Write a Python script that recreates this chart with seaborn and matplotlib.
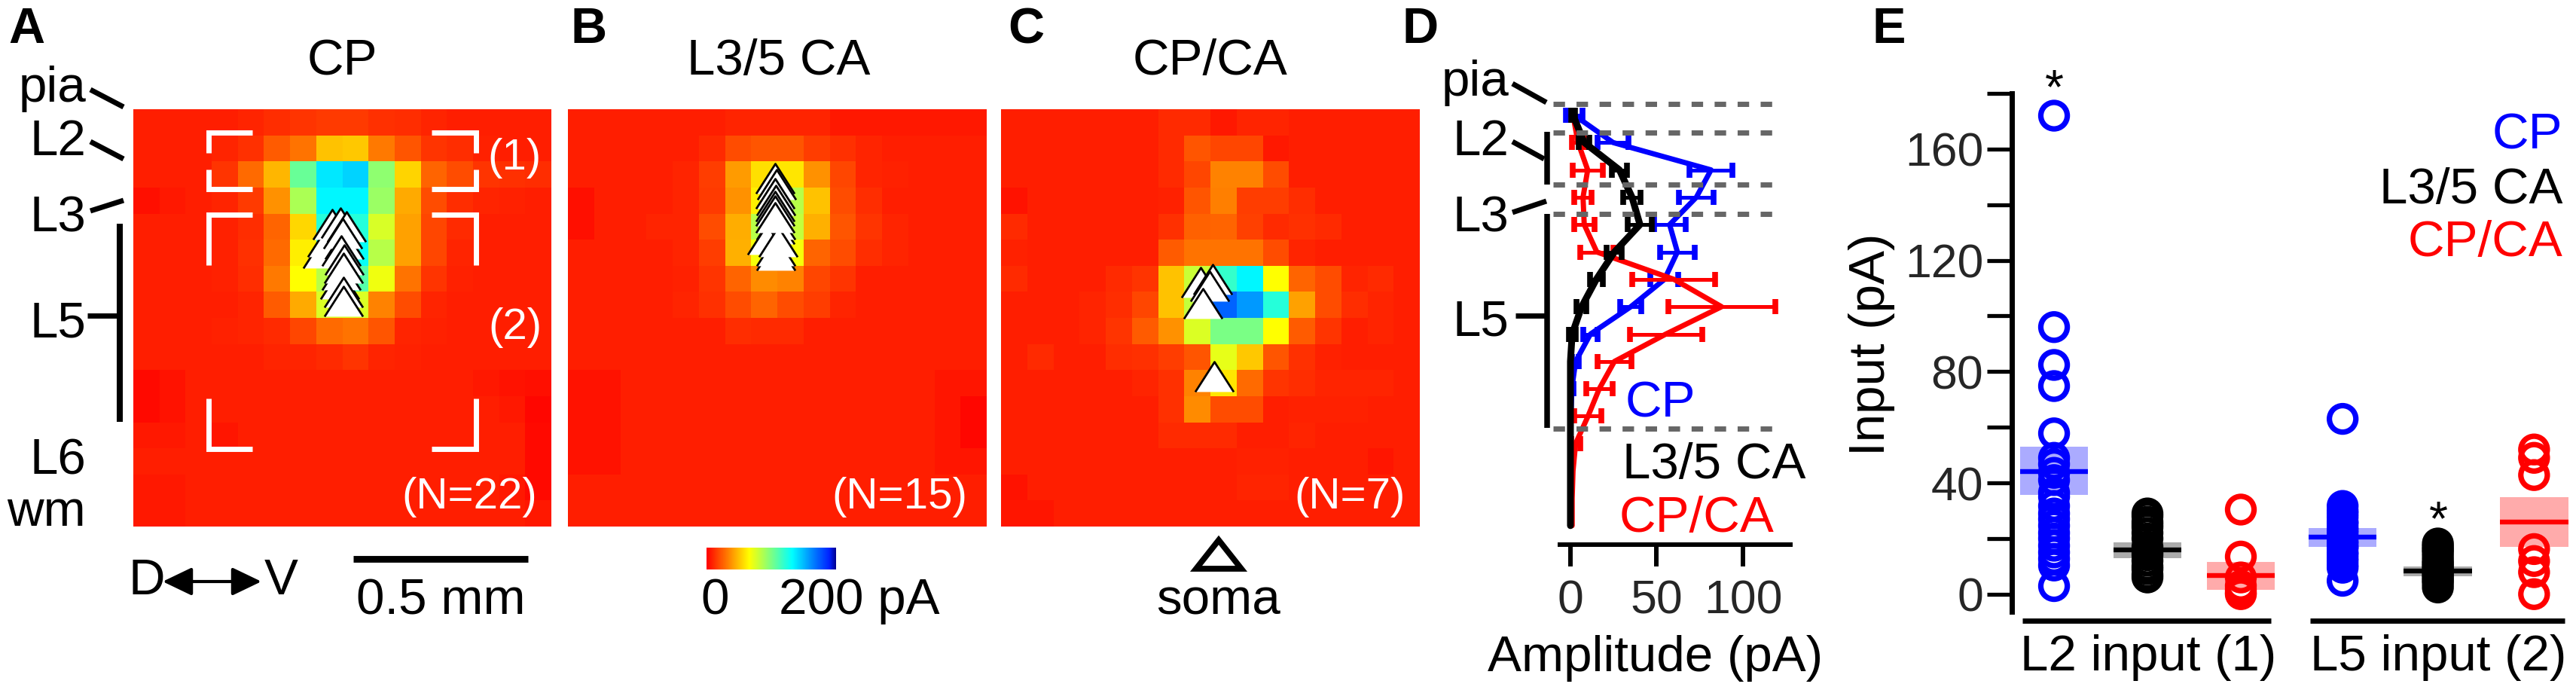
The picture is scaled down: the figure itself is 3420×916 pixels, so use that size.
import numpy as np
import pandas as pd
import matplotlib
matplotlib.use("Agg")
import matplotlib.pyplot as plt
import seaborn as sns
from matplotlib.colors import LinearSegmentedColormap
from matplotlib.patches import Polygon

# ---------- maps, 16 x 16 cells, pA ----------
map_cp = [
    [8, 8, 8, 8, 10, 12, 14, 15, 15, 13, 12, 10, 8, 8, 8, 8],
    [8, 8, 8, 10, 13, 24, 30, 50, 52, 32, 22, 14, 12, 9, 8, 8],
    [8, 8, 8, 14, 28, 47, 105, 138, 143, 95, 55, 26, 20, 14, 13, 12],
    [4, 7, 8, 10, 15, 38, 88, 134, 134, 92, 44, 20, 12, 10, 9, 8],
    [8, 8, 8, 9, 12, 26, 56, 122, 122, 76, 42, 18, 11, 8, 8, 8],
    [8, 8, 8, 9, 13, 28, 62, 126, 130, 85, 42, 18, 10, 8, 8, 8],
    [8, 8, 8, 9, 12, 32, 66, 85, 110, 70, 30, 14, 9, 8, 8, 8],
    [8, 8, 8, 8, 10, 24, 44, 75, 75, 34, 20, 10, 8, 8, 8, 8],
    [8, 8, 8, 9, 10, 11, 18, 28, 30, 22, 10, 9, 8, 8, 8, 8],
    [8, 8, 8, 8, 8, 10, 10, 11, 14, 10, 9, 8, 8, 8, 8, 8],
    [3, 5, 8, 8, 8, 8, 8, 8, 8, 8, 8, 8, 8, 7, 5, 4],
    [3, 5, 8, 8, 8, 8, 8, 8, 8, 8, 8, 8, 8, 8, 7, 2],
    [7, 7, 8, 6, 8, 8, 8, 8, 8, 8, 8, 8, 8, 8, 8, 3],
    [8, 8, 8, 8, 8, 8, 8, 8, 8, 8, 8, 8, 8, 8, 8, 3],
    [7, 7, 8, 8, 8, 8, 8, 8, 8, 8, 8, 8, 8, 8, 7, 3],
    [7, 7, 8, 8, 8, 8, 8, 8, 8, 8, 8, 8, 8, 8, 8, 7],
]
map_ca = [
    [8, 8, 8, 8, 8, 8, 10, 10, 10, 10, 7, 7, 7, 7, 7, 7],
    [8, 8, 8, 8, 8, 11, 20, 22, 22, 16, 13, 10, 8, 8, 8, 8],
    [8, 8, 8, 8, 10, 16, 40, 58, 60, 38, 18, 10, 9, 8, 8, 8],
    [4, 8, 8, 8, 10, 15, 38, 62, 85, 50, 20, 12, 8, 8, 8, 8],
    [4, 8, 8, 10, 10, 20, 45, 85, 82, 46, 22, 14, 10, 8, 8, 8],
    [8, 8, 8, 8, 10, 16, 46, 68, 68, 26, 20, 12, 10, 8, 8, 8],
    [8, 8, 8, 8, 9, 14, 26, 36, 34, 18, 14, 8, 8, 8, 8, 8],
    [8, 8, 8, 8, 10, 13, 20, 26, 20, 16, 10, 8, 8, 8, 8, 8],
    [8, 8, 8, 8, 8, 8, 12, 11, 11, 8, 8, 8, 8, 8, 8, 8],
    [8, 8, 8, 8, 8, 8, 8, 8, 8, 8, 8, 8, 8, 8, 8, 8],
    [5, 5, 8, 8, 8, 8, 8, 8, 8, 8, 8, 8, 8, 8, 6, 6],
    [5, 5, 8, 8, 8, 8, 8, 8, 8, 8, 8, 8, 8, 8, 6, 2],
    [5, 5, 8, 8, 8, 8, 8, 8, 8, 8, 8, 8, 8, 8, 6, 2],
    [5, 5, 8, 8, 8, 8, 8, 8, 8, 8, 8, 8, 8, 8, 6, 6],
    [8, 8, 8, 8, 8, 8, 8, 8, 8, 8, 8, 8, 8, 8, 8, 8],
    [8, 8, 8, 8, 8, 8, 8, 8, 8, 8, 8, 8, 8, 8, 8, 8],
]
map_cpca = [
    [8, 8, 8, 8, 8, 8, 11, 11, 7, 10, 10, 8, 8, 8, 8, 8],
    [8, 8, 8, 8, 8, 8, 11, 22, 18, 18, 7, 8, 8, 8, 8, 8],
    [8, 8, 8, 8, 8, 8, 11, 18, 34, 34, 20, 8, 8, 8, 8, 8],
    [5, 8, 8, 8, 8, 8, 9, 22, 33, 16, 16, 12, 8, 8, 8, 8],
    [11, 8, 8, 8, 8, 8, 13, 25, 26, 17, 11, 13, 11, 8, 8, 8],
    [9, 8, 8, 8, 8, 8, 24, 30, 30, 30, 20, 10, 8, 8, 8, 8],
    [11, 8, 8, 8, 11, 14, 50, 80, 118, 134, 66, 26, 20, 10, 11, 8],
    [8, 8, 8, 10, 12, 18, 50, 82, 172, 158, 122, 42, 20, 12, 10, 8],
    [8, 8, 8, 10, 14, 24, 38, 75, 100, 100, 66, 24, 14, 8, 10, 8],
    [8, 11, 8, 8, 12, 13, 16, 22, 72, 52, 22, 13, 9, 8, 8, 8],
    [8, 8, 8, 8, 8, 10, 13, 34, 60, 28, 14, 12, 10, 10, 10, 8],
    [8, 8, 8, 8, 8, 8, 13, 36, 20, 20, 8, 9, 9, 9, 8, 8],
    [8, 8, 8, 8, 8, 8, 11, 11, 11, 8, 8, 10, 8, 8, 8, 8],
    [8, 8, 8, 8, 8, 8, 8, 8, 8, 9, 9, 8, 8, 8, 6, 8],
    [5, 8, 8, 8, 8, 8, 8, 8, 8, 10, 10, 8, 8, 8, 8, 8],
    [6, 6, 8, 8, 8, 8, 8, 8, 8, 8, 8, 8, 8, 8, 8, 8],
]

# soma positions, in map cells, in the order they overlap
soma_cp_col = [7.23, 7.41, 8.07, 7.62, 7.93, 8.15, 8.01, 7.90, 7.97, 7.97, 8.07, 8.04, 8.04, 8.04]
soma_cp_row = [5.51, 5.09, 5.18, 4.42, 4.37, 4.50, 4.76, 6.69, 6.36, 5.43, 5.77, 6.10, 7.03, 7.37]
soma_ca_col = [7.95, 7.95, 7.90, 7.93, 7.60, 8.03, 7.90, 7.98, 7.90, 7.93, 7.90, 7.90, 7.90]
soma_ca_row = [5.60, 5.43, 4.59, 4.42, 5.01, 5.09, 2.65, 2.90, 3.24, 3.49, 3.74, 3.91, 4.17]
soma_cpca_col = [7.63, 8.10, 7.97, 7.72, 8.15]
soma_cpca_row = [6.64, 6.53, 6.78, 7.45, 10.24]

# ---------- panel D, amplitude per row ----------
rows = list(range(16))
amp_cp = [2.2, 24.7, 81.5, 73, 57.5, 62, 54.5, 35, 11.6, 3, 0.8, 0.3, 0.2, 0.1, 0.1, 0.1]
err_cp = [5, 9, 12.5, 10, 9.2, 10, 8, 6, 4, 2, 1, 0.3, 0.2, 0.1, 0.1, 0.1]
amp_ca = [1.5, 8, 28.4, 35.7, 40.3, 25.5, 15, 6.5, 1, 0, 0, 0, 0, 0, 0, 0]
err_ca = [1, 3, 4.5, 5, 7, 4.4, 3.6, 2.8, 2, 0.5, 0.5, 0.3, 0.3, 0.3, 0.3, 0.3]
amp_cpca = [1.5, 4.4, 10, 7.3, 8, 15.3, 60, 87.6, 55.3, 25.5, 16.7, 10.2, 3, 1.5, 1, 1]
err_cpca = [0.5, 3.6, 8.7, 5, 5.8, 9.7, 24, 31, 21, 9.8, 7.7, 7.8, 2.5, 0.5, 0.5, 0.5]

# ---------- panel E ----------
l2_cp = [172, 96, 82.4, 74.8, 57.8, 49, 46.7, 43.6, 41, 36.5, 35, 31.7, 29, 27, 24.6, 22, 20, 17.4, 15, 12.7, 10.3, 2.9]
l2_ca = [29, 28, 26, 25, 24, 22, 20, 17, 15, 14, 12, 10, 9, 7, 6]
l2_cpca = [30.4, 13.5, 6, 3, 1.6, 0.5, 0]
l5_cp = [63, 31.7, 30, 29, 27.7, 26, 25.4, 24, 23, 22, 20.6, 19, 18.2, 17, 16.6, 15, 14.3, 13, 11.9, 10.5, 9.5, 4.8]
l5_ca = [18.2, 17, 16, 15, 13.5, 12, 11, 10, 9, 8, 7, 6, 5, 4, 2.4]
l5_cpca = [52, 49, 42.8, 16.2, 11.9, 7.9, 0]
group_vals = [l2_cp, l2_ca, l2_cpca, l5_cp, l5_ca, l5_cpca]
group_x = [0, 1, 2, 3.09, 4.11, 5.14]
group_mean = [44.2, 15.8, 6.7, 20.6, 8.2, 26]
group_lo = [35.7, 13, 1.6, 17, 6.3, 17]
group_hi = [53, 18.7, 11.7, 23.8, 10, 34.9]
group_col = ["#0000ff", "#000000", "#ff0000", "#0000ff", "#000000", "#ff0000"]

W, H = 3420, 916
sns.set_theme(style="white")
plt.rcParams["font.family"] = ["Liberation Sans", "DejaVu Sans"]
fig = plt.figure(figsize=(W / 100, H / 100), dpi=100)


def px_axes(left, top, right, bottom):
    return fig.add_axes([left / W, 1 - bottom / H, (right - left) / W, (bottom - top) / H])


heat_cmap = LinearSegmentedColormap.from_list(
    "map", [(0, "#ff0000"), (0.33, "#ffff00"), (0.66, "#00ffff"), (0.95, "#0020ff"), (1, "#000090")])
tri = [(-1, -0.78), (0, 0.78), (1, -0.78)]

boxes = [(177, 145, 732, 699), (754, 145, 1310, 699), (1329, 145, 1885, 699)]
maps = [map_cp, map_ca, map_cpca]
somas = [(soma_cp_col, soma_cp_row), (soma_ca_col, soma_ca_row), (soma_cpca_col, soma_cpca_row)]
for box, m, (sc, sr) in zip(boxes, maps, somas):
    ax = px_axes(*box)
    if m is map_ca:
        cax = px_axes(938, 727, 1110, 756)
        sns.heatmap(m, ax=ax, cmap=heat_cmap, vmin=0, vmax=200, xticklabels=False, yticklabels=False,
                    cbar_ax=cax, cbar_kws={"orientation": "horizontal"})
        cax.set_xticks([])
        ax.collections[0].colorbar.outline.set_visible(False)
    else:
        sns.heatmap(m, ax=ax, cmap=heat_cmap, vmin=0, vmax=200, xticklabels=False, yticklabels=False, cbar=False)
    sns.scatterplot(x=sc, y=sr, ax=ax, marker=tri, s=1350, color="white", edgecolor="black", linewidth=2.0,
                    legend=False)
    ax.set_xlim(0, 16)
    ax.set_ylim(16, 0)

# ---------- panel D ----------
ax_d = px_axes(2071, 130, 2377, 722.5)
for amp, err, col, lw in [(amp_cp, err_cp, "#0000ff", 5), (amp_cpca, err_cpca, "#ff0000", 5),
                          (amp_ca, err_ca, "#000000", 6.5)]:
    # very small errors have no visible bar in the figure
    amp_a, err_a, row_a = np.array(amp), np.array(err), np.array(rows)
    keep = err_a >= 1
    ax_d.errorbar(amp_a[keep], row_a[keep], xerr=err_a[keep], fmt="none", ecolor=col, elinewidth=3.6, capsize=7,
                  capthick=5.5)
    sns.lineplot(x=amp, y=rows, ax=ax_d, color=col, linewidth=lw, sort=False, orient="y", estimator=None,
                 legend=False)
ax_d.set_xlim(-6.1, 127.5)
ax_d.set_ylim(15.68, -0.63)
ax_d.set_xticks([0, 50, 100])
ax_d.set_yticks([])
ax_d.set_xlabel("")
ax_d.set_ylabel("")
ax_d.tick_params(axis="x", labelsize=45, length=21, width=4.3, pad=12, bottom=True, color="black")
sns.despine(ax=ax_d, left=True)
ax_d.spines["bottom"].set_linewidth(4.3)
ax_d.spines["bottom"].set_color("black")
ax_d.patch.set_alpha(0)

# ---------- panel E ----------
ax_e = px_axes(2671, 124, 3420, 812)
for x, lo, hi, col in zip(group_x, group_lo, group_hi, group_col):
    ax_e.fill_between([x - 0.365, x + 0.365], lo, hi, color=col, alpha=0.33, linewidth=0, zorder=1)
points = pd.DataFrame({"x": np.repeat(group_x, [len(v) for v in group_vals]),
                       "y": np.concatenate(group_vals)})
points["col"] = np.repeat(group_col, [len(v) for v in group_vals])
for col, part in points.groupby("col"):
    sns.scatterplot(data=part, x="x", y="y", ax=ax_e, s=640, facecolors="none", edgecolor=col, linewidth=5.2,
                    clip_on=False, zorder=2, legend=False)
for x, m, col in zip(group_x, group_mean, group_col):
    ax_e.plot([x - 0.365, x + 0.365], [m, m], color=col, lw=4.6, solid_capstyle="butt", zorder=3)
ax_e.set_xlim(-0.452, 5.589)
ax_e.set_ylim(-6.3, 180)
ax_e.set_xticks([])
ax_e.set_xlabel("")
ax_e.set_ylabel("")
ax_e.set_yticks(list(range(0, 181, 20)))
ax_e.set_yticklabels([str(v) if v % 40 == 0 and v < 180 else "" for v in range(0, 181, 20)])
ax_e.tick_params(axis="y", labelsize=45, length=24, width=3.8, pad=3, left=True, color="black")
sns.despine(ax=ax_e, bottom=True)
ax_e.spines["left"].set_linewidth(5)
ax_e.spines["left"].set_color("black")
ax_e.patch.set_alpha(0)

# ---------- labels and annotation, pixel coordinates ----------
ov = fig.add_axes([0, 0, 1, 1], zorder=10)
ov.set_xlim(0, W)
ov.set_ylim(H, 0)
ov.axis("off")


def txt(x, y, s, ha="left", color="black", size=48.5, **kw):
    ov.text(x, y, s, ha=ha, va="baseline", color=color, fontsize=size, **kw)


def seg(x0, y0, x1, y1, lw=5, color="black", cap="butt"):
    ov.plot([x0, x1], [y0, y1], color=color, lw=lw, solid_capstyle=cap)


for x, s in [(11, "A"), (757, "B"), (1338, "C"), (1861, "D"), (2485, "E")]:
    txt(x, 57, s, weight="bold", size=48)
txt(454, 99, "CP", ha="center")
txt(1034, 99, "L3/5 CA", ha="center")
txt(1607, 99, "CP/CA", ha="center")

# layers, panel A
for y, s in [(135, "pia"), (206, "L2"), (307, "L3"), (447, "L5"), (630, "L6"), (698, "wm")]:
    txt(114, y, s, ha="right")
seg(120, 119, 164, 142)
seg(120, 188, 164, 211)
seg(120, 280, 164, 266)
seg(158.5, 297, 158.5, 560, lw=5.8)
seg(116, 419, 158, 419)

# white brackets
for l, r, t, b, tv, bv in [(277, 632, 176, 251, 203, 225), (277, 632, 285, 596, 352, 529)]:
    ov.plot([335, l, l], [t, t, tv], color="white", lw=5, solid_joinstyle="miter", solid_capstyle="butt")
    ov.plot([573, r, r], [t, t, tv], color="white", lw=5, solid_joinstyle="miter", solid_capstyle="butt")
    ov.plot([335, l, l], [b, b, bv], color="white", lw=5, solid_joinstyle="miter", solid_capstyle="butt")
    ov.plot([573, r, r], [b, b, bv], color="white", lw=5, solid_joinstyle="miter", solid_capstyle="butt")
txt(719, 225, "(1)", ha="right", color="white", size=42)
txt(719, 450, "(2)", ha="right", color="white", size=42)
txt(713, 675, "(N=22)", ha="right", color="white", size=42)
txt(1284, 675, "(N=15)", ha="right", color="white", size=42)
txt(1866, 675, "(N=7)", ha="right", color="white", size=42)

# below the maps
txt(170, 789, "D")
txt(351, 789, "V")
ov.annotate("", xy=(347, 772), xytext=(216, 772),
            arrowprops=dict(arrowstyle="<|-|>,head_length=0.75,head_width=0.36", lw=3, color="black",
                            shrinkA=0, shrinkB=0, mutation_scale=32))
seg(469, 742, 701, 742, lw=6.4)
txt(585, 815, "0.5 mm", ha="center")
txt(949, 815, "0", ha="center")
txt(1034, 815, "200 pA")
ov.add_patch(Polygon([(1588, 755), (1618, 717), (1648, 755)], closed=True, fill=False, edgecolor="black", lw=5.6))
txt(1618, 815, "soma", ha="center")

# panel D labels
for y, s in [(127, "pia"), (206, "L2"), (308, "L3"), (445, "L5")]:
    txt(2003, y, s, ha="right")
seg(2008, 111, 2053, 136)
seg(2008, 188, 2050, 211)
seg(2008, 282, 2053, 267)
seg(2054, 175, 2054, 245, lw=5.4)
seg(2054, 284, 2054, 568, lw=5.4)
seg(2012, 419, 2052, 419)
for y in [138, 176, 245, 284, 569]:
    ov.plot([2062, 2367], [y, y], color="#666666", lw=5, dashes=(2.2, 2.2), dash_capstyle="butt")
txt(2158, 553, "CP", color="#0000ff")
txt(2154, 635, "L3/5 CA")
txt(2150, 706, "CP/CA", color="#ff0000")
txt(2198, 891, "Amplitude (pA)", ha="center")

# panel E labels
ov.text(2485, 457, "Input (pA)", rotation=90, ha="center", va="center", fontsize=48.5, color="black")
seg(2685, 823.5, 3015, 823.5, lw=5)
seg(3067, 823.5, 3405, 823.5, lw=5)
txt(2852, 890, "L2 input (1)", ha="center")
txt(3237, 890, "L5 input (2)", ha="center")
txt(3402, 197, "CP", ha="right", color="#0000ff")
txt(3402, 270, "L3/5 CA", ha="right")
txt(3402, 340, "CP/CA", ha="right", color="#ff0000")
txt(2727, 137, "*", ha="center", size=46)
txt(3237, 710, "*", ha="center", size=46)

fig.savefig("out.png", dpi=100)
